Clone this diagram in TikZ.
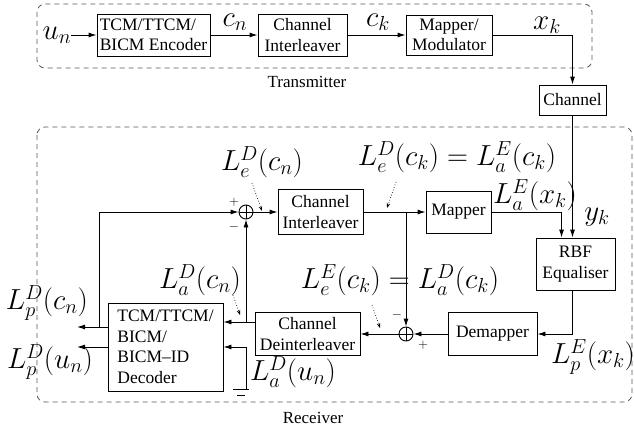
\RequirePackage{fix-cm}
\documentclass[tikz,border=0pt]{standalone}
\usepackage[no-math]{fontspec}
\setmainfont{Liberation Serif}
\usetikzlibrary{arrows.meta,calc}
\begin{document}
\begin{tikzpicture}[x=1pt,y=-1pt,
  box/.style={draw, line width=0.9pt, inner sep=2pt, font=\fontsize{17.5}{20.5}\selectfont, align=center},
  lab/.style={font=\fontsize{29}{31}\selectfont, inner sep=0pt},
  txt/.style={font=\fontsize{17}{20}\selectfont, inner sep=0pt},
  pm/.style={font=\fontsize{13}{13}\selectfont, inner sep=0pt},
  conn/.style={line width=0.9pt, -{Latex[length=8pt,width=5pt]}},
  wire/.style={line width=0.9pt},
  dotarr/.style={dotted, line width=0.7pt, -{Stealth[length=5pt,width=3.5pt]}},
  grp/.style={draw=black!65, dash pattern=on 5pt off 4pt, line width=0.8pt, rounded corners=8pt},
  sumc/.style={draw, circle, minimum size=14pt, inner sep=0pt, line width=0.9pt}]
\useasboundingbox (0,0) rectangle (634,428);

% groups
\draw[grp] (37,4) rectangle (592,68);
\draw[grp] (37,127) rectangle (632,402);
\node[txt] (tx) at (307,82) {Transmitter};
\node[txt] (rx) at (313,418) {Receiver};

% transmitter
\node[lab] (un) at (57,35) {$u_n$};
\node[box, align=left, minimum width=113pt, minimum height=42pt] (enc) at (153.5,35) {TCM/TTCM/\\BICM Encoder};
\node[box, minimum width=89pt, minimum height=42pt] (tint) at (302.5,35) {Channel\\Interleaver};
\node[box, minimum width=86pt, minimum height=40pt] (mod) at (449,35) {Mapper/\\Modulator};
\node[box, minimum width=67pt, minimum height=30pt] (chan) at (572.5,100) {Channel};
\node[lab] (cn) at (235,22) {$c_n$};
\node[lab] (ck) at (378,22) {$c_k$};
\node[lab] (xk) at (547,25) {$x_k$};

\draw[conn] (un) -- (enc.west);
\draw[conn] (enc.east) -- (tint.west);
\draw[conn] (tint.east) -- (mod.west);
\draw[conn] (mod.east) -| (chan.north);

% receiver
\node[box, minimum width=85pt, minimum height=45pt] (rint) at (320.5,212) {Channel\\Interleaver};
\node[box, minimum width=65pt, minimum height=42pt] (map) at (458.5,212) {Mapper};
\node[box, minimum width=79pt, minimum height=52pt] (rbf) at (575.5,264) {RBF\\Equaliser};
\node[box, minimum width=89pt, minimum height=43pt] (dem) at (492.5,334) {Demapper};
\node[box, minimum width=105pt, minimum height=43pt] (deint) at (307.5,334) {Channel\\Deinterleaver};
\node[box, align=left, minimum width=115pt, minimum height=88pt] (dec) at (165.5,347) {TCM/TTCM/\\BICM/\\BICM--ID\\Decoder};
\node[sumc] (s1) at (246,212) {};
\node[sumc] (s2) at (406,334) {};
\draw[wire] (s1.north) -- (s1.south) (s1.west) -- (s1.east);
\draw[wire] (s2.north) -- (s2.south) (s2.west) -- (s2.east);

\coordinate (rbfin) at ($(rbf.north west)+(26,0)$);
\draw[conn] (chan.south) -- (chan.south |- rbf.north);
\draw[conn] (map.east) -| (rbfin);
\draw[conn] (chan.south |- rbf.south) |- (dem.east);
\draw[conn] (dem.west) -- (s2.east);
\draw[conn] (s2.west) -- (deint.east);
\draw[conn] (s1.east) -- (rint.west);
\draw[conn] (rint.east) -- (map.west);
\draw[conn] (rint.east -| s2.north) -- (s2.north);

\coordinate (jd) at (246,322);
\draw[conn] (deint.west |- jd) -- (dec.east |- jd);
\draw[conn] (jd) -- (s1.south);
\coordinate (gnd) at (246,389);
\draw[conn] (gnd) |- (dec.east);
\coordinate (g1) at (233,389);
\coordinate (g2) at (249,389);
\coordinate (g3) at (237,395);
\coordinate (g4) at (245,395);
\draw[wire] (g1) -- (g2) (g3) -- (g4);

\coordinate (jl) at (99,327);
\coordinate (o1) at (77,327);
\coordinate (o2) at (77,347);
\draw[conn] (dec.west |- jl) -- (o1);
\draw[conn] (dec.west) -- (o2);
\draw[conn] (jl) |- (s1.west);

% signs
\node[pm] (p1) at (234,202) {$+$};
\node[pm] (m1) at (234,227) {$-$};
\node[pm] (m2) at (397,315) {$-$};
\node[pm] (p2) at (423,345) {$+$};

% labels
\node[lab] (LeDcn) at (262,162) {$L_e^D(c_n)$};
\node[lab] (LeDck) at (457,157) {$L_e^D(c_k) = L_a^E(c_k)$};
\node[lab] (LaExk) at (535,195) {$L_a^E(x_k)$};
\node[lab] (yk) at (597,217) {$y_k$};
\node[lab] (LaDcn) at (200,280) {$L_a^D(c_n)$};
\node[lab] (LeEck) at (400,280) {$L_e^E(c_k) = L_a^D(c_k)$};
\node[lab] (LpDcn) at (47,303) {$L_p^D(c_n)$};
\node[lab] (LpDun) at (50,362) {$L_p^D(u_n)$};
\node[lab] (LaDun) at (293,372) {$L_a^D(u_n)$};
\node[lab] (LpExk) at (593,357) {$L_p^E(x_k)$};

% dotted pointers
\coordinate (d1a) at (252,183); \coordinate (d1b) at (262,211);
\coordinate (d2a) at (396,182); \coordinate (d2b) at (387,208);
\coordinate (d3a) at (233,295); \coordinate (d3b) at (240,315);
\coordinate (d4a) at (372,305); \coordinate (d4b) at (380,328);
\draw[dotarr] (d1a) -- (d1b);
\draw[dotarr] (d2a) -- (d2b);
\draw[dotarr] (d3a) -- (d3b);
\draw[dotarr] (d4a) -- (d4b);
\end{tikzpicture}
\end{document}
